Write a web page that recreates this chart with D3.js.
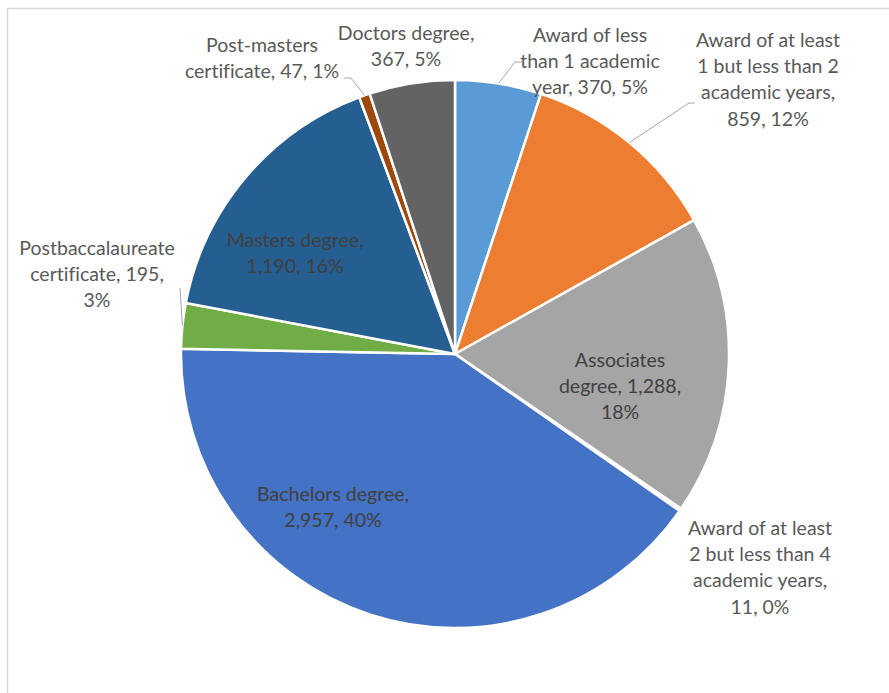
<!DOCTYPE html>
<html>
<head>
<meta charset="utf-8">
<script src="https://cdn.jsdelivr.net/npm/d3@7/dist/d3.min.js"></script>
<style>
  html, body { margin: 0; padding: 0; background: #ffffff; }
  svg { display: block; }
  text { font-family: Lato, "Open Sans", "Liberation Sans", sans-serif; font-variant-ligatures: none; }
</style>
</head>
<body>
<svg id="chart" width="889" height="693"></svg>
<script>
// Awards conferred, by award level
const categories = [
  "Award of less than 1 academic year",
  "Award of at least 1 but less than 2 academic years",
  "Associates degree",
  "Award of at least 2 but less than 4 academic years",
  "Bachelors degree",
  "Postbaccalaureate certificate",
  "Masters degree",
  "Post-masters certificate",
  "Doctors degree"
];
const values = [370, 859, 1288, 11, 2957, 195, 1190, 47, 367];
const percentLabels = ["5%", "12%", "18%", "0%", "40%", "3%", "16%", "1%", "5%"];
const sliceColors = ["#5B9BD5", "#ED7D31", "#A5A5A5", "#FFC000", "#4472C4",
                     "#70AD47", "#255E91", "#9E480E", "#636363"];

// Label text broken into lines, in the same order as the categories
const labelLines = [
  ["Award of less", "than 1 academic", "year, 370, 5%"],
  ["Award of at least", "1 but less than 2", "academic years,", "859, 12%"],
  ["Associates", "degree, 1,288,", "18%"],
  ["Award of at least", "2 but less than 4", "academic years,", "11, 0%"],
  ["Bachelors degree,", "2,957, 40%"],
  ["Postbaccalaureate", "certificate, 195,", "3%"],
  ["Masters degree,", "1,190, 16%"],
  ["Post-masters", "certificate, 47, 1%"],
  ["Doctors degree,", "367, 5%"]
];

const svg = d3.select("#chart");
const W = 889, H = 693;

// chart-area frame
svg.append("rect")
  .attr("x", 7.5).attr("y", 8.5)
  .attr("width", W + 20).attr("height", H + 20)
  .attr("fill", "#ffffff")
  .attr("stroke", "#d9d9d9")
  .attr("stroke-width", 1.5);

const cx = 455, cy = 354, R = 274;
const g = svg.append("g").attr("transform", `translate(${cx},${cy})`);

const pie = d3.pie().sort(null).value(d => d);
const arcs = pie(values);
const arc = d3.arc().innerRadius(0).outerRadius(R);
const color = d3.scaleOrdinal().domain(categories).range(sliceColors);

g.selectAll("path.slice")
  .data(arcs)
  .join("path")
  .attr("class", "slice")
  .attr("d", arc)
  .attr("fill", (d, i) => color(categories[i]))
  .attr("stroke", "#ffffff")
  .attr("stroke-width", 2.5)
  .attr("stroke-linejoin", "round");

// Label placement (centre of first line, relative to the pie centre) and leader style
const labelLayout = [
  { dx: 135, dy: -319, leader: { from: [67, -292], knee: [60, -292] } },
  { dx: 313, dy: -314, leader: { from: [240, -251], knee: [234, -251] } },
  { dx: 165, dy: 6, inside: true },
  { dx: 305, dy: 174 },
  { dx: -122, dy: 140, inside: true },
  { dx: -358, dy: -106, leader: { from: [-275, -66], knee: [-275, -66] } },
  { dx: -160, dy: -114, inside: true },
  { dx: -193, dy: -309, leader: { from: [-111, -276], knee: [-104, -276] } },
  { dx: -49, dy: -321 }
];
const lineHeight = 26.3;

// leader lines end on the outer edge at the slice's mid angle
arcs.forEach((a, i) => {
  const L = labelLayout[i].leader;
  if (!L) return;
  const mid = (a.startAngle + a.endAngle) / 2;
  const ex = R * Math.sin(mid), ey = -R * Math.cos(mid);
  g.append("polyline")
    .attr("points", [L.from, L.knee, [ex, ey]].map(p => p.join(",")).join(" "))
    .attr("fill", "none")
    .attr("stroke", "#a6a6a6")
    .attr("stroke-width", 1);
});

const labels = g.selectAll("text.lbl")
  .data(arcs)
  .join("text")
  .attr("class", "lbl")
  .attr("text-anchor", "middle")
  .attr("font-size", 19.5)
  .attr("fill", (d, i) => labelLayout[i].inside ? "#404040" : "#595959")
  .attr("transform", (d, i) => `translate(${labelLayout[i].dx},${labelLayout[i].dy})`);

labels.each(function (d, i) {
  d3.select(this).selectAll("tspan")
    .data(labelLines[i])
    .join("tspan")
    .attr("x", 0)
    .attr("y", (t, j) => j * lineHeight)
    .attr("dy", "0.35em")
    .text(t => t);
});
</script>
</body>
</html>
